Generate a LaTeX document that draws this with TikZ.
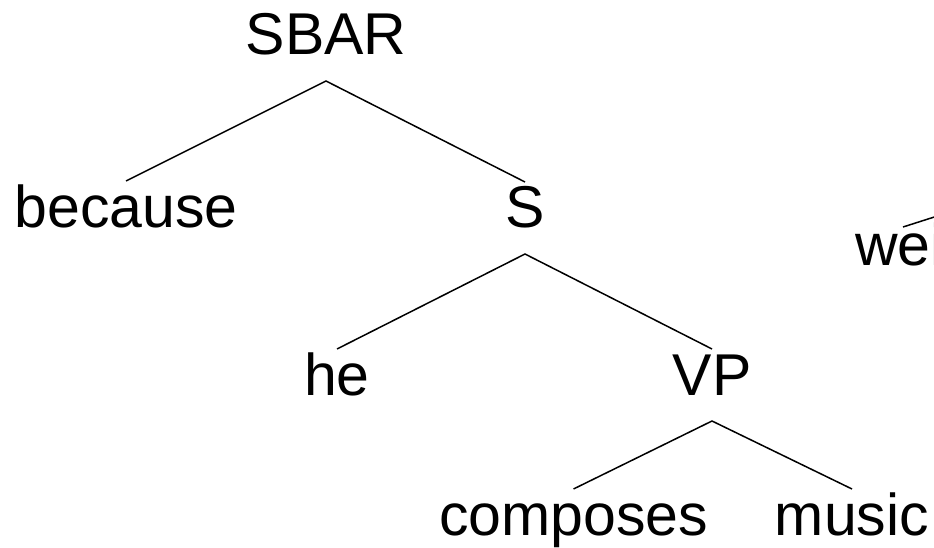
\documentclass[tikz,border=0pt]{standalone}
\usepackage{fontspec}
\setmainfont{Liberation Sans}
\begin{document}
\begin{tikzpicture}[x=1pt,y=-1pt,
  lbl/.style={anchor=base,inner sep=0pt,outer sep=0pt,text height=46pt,text depth=26pt,
    font=\fontsize{59}{70}\selectfont},
  edge/.style={draw=black,line width=1.5pt}]
\useasboundingbox (0,0) rectangle (934,548);
\clip (0,0) rectangle (934,548);
\fill[white] (0,0) rectangle (934,548);
\node[lbl] (SBAR) at (326,55) {SBAR};
\node[lbl] (because) at (126,227) {because};
\node[lbl] (S) at (525,228) {S};
\node[lbl] (he) at (337,395) {he};
\node[lbl] (VP) at (712,395) {VP};
\node[lbl] (composes) at (573.5,535) {composes};
\node[lbl] (music) at (852,535) {music};
\node[lbl,anchor=base west] (wei) at (855,265) {wei};
\coordinate (weitop) at (903,227);
\coordinate (weiparent) at (1000,196);
\draw[edge] (because.north) -- (SBAR.south) -- (S.north);
\draw[edge] (he.north) -- (S.south) -- (VP.north);
\draw[edge] (composes.north) -- (VP.south) -- (music.north);
\draw[edge] (weitop) -- (weiparent);
\end{tikzpicture}
\end{document}
